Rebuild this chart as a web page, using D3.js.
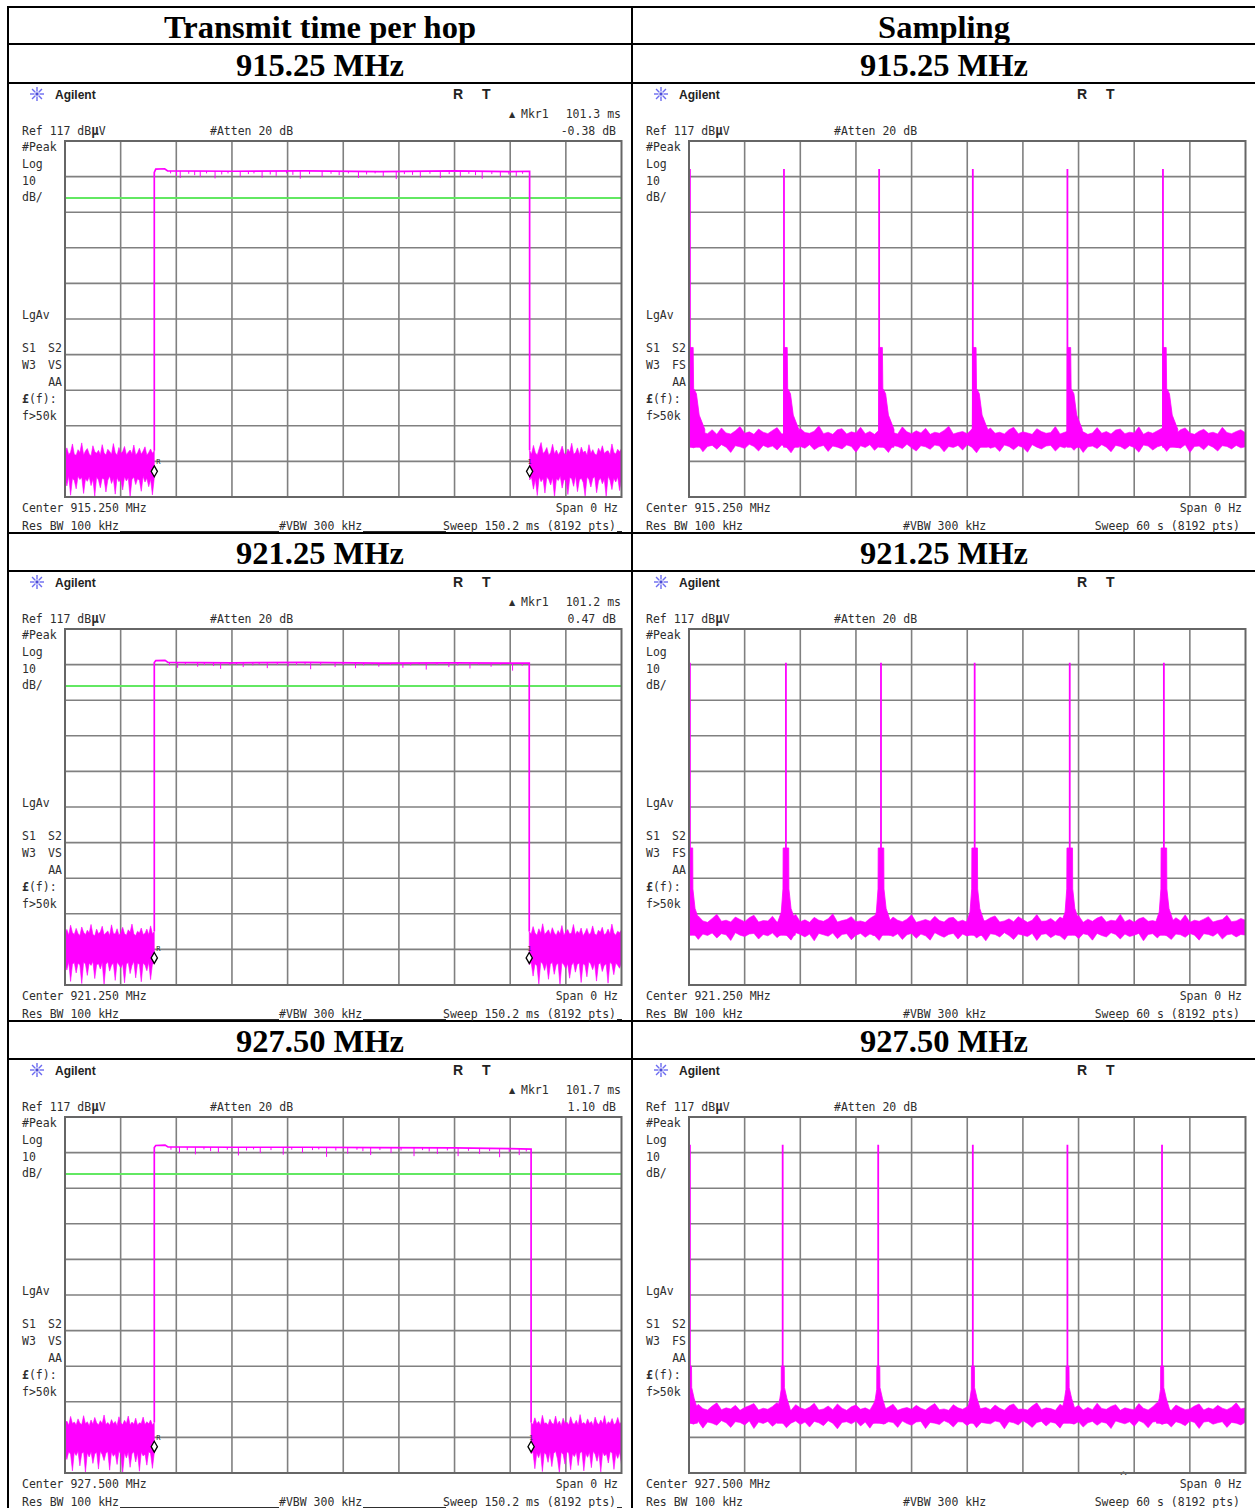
<!DOCTYPE html>
<html><head><meta charset="utf-8">
<script src="https://cdn.jsdelivr.net/npm/d3@7"></script>
<style>body{margin:0;background:#fff}</style></head>
<body>
<script>
// ---------------- DATA ----------------
const columnTitles = ["Transmit time per hop", "Sampling"];
const rowFreqs = ["915.25 MHz", "921.25 MHz", "927.50 MHz"];
const centerFreqs = ["915.250 MHz", "921.250 MHz", "927.500 MHz"];
const mkrTimes = ["101.3 ms", "101.2 ms", "101.7 ms"];
const mkrLevels = ["-0.38 dB", "0.47 dB", "1.10 dB"];
const refLevel = 117, dbPerDiv = 10, nDiv = 10;
const displayLineDb = [101, 101, 101];
const txSweepMs = 150.2, sampSweepS = 60;
const sideLabels = ["#Peak", "Log", "10", "dB/", "LgAv", "S1", "W3", "AA", "£(f):", "f>50k"];
const sideLabels2 = { 5: "S2", 6: ["VS", "FS"] };

// transmit-time panels (time in ms, level in dBuV)
const txOnMs = [24.1, 24.1, 24.1];
const txOffMs = [125.4, 125.3, 125.8];
const txMarkerDb = [24.2, 24.6, 24.4];
const txPlateau = [
  [[24.1, 108.2], [24.5, 109.1], [26.9, 109.2], [27.7, 108.6], [45, 108.5], [65, 108.6], [85, 108.4], [105, 108.6], [120, 108.4], [125.4, 108.5]],
  [[24.1, 107.6], [24.5, 108.1], [27.0, 108.2], [27.8, 107.6], [45, 107.5], [65, 107.6], [85, 107.4], [105, 107.5], [120, 107.4], [125.3, 107.4]],
  [[24.1, 108.4], [24.5, 109.0], [27.0, 109.1], [27.8, 108.6], [45, 108.5], [65, 108.5], [85, 108.4], [105, 108.3], [120, 108.1], [125.8, 108.0]]
];
const txDips = [
  [[28.5,107.9],[30.1,107.2],[31.1,106.6],[33.4,107.8],[35.0,107.4],[36.5,106.9],[38.2,107.9],[40.5,106.5],[42.3,107.6],[44.0,107.9],[47.3,107.0],[49.5,107.7],[51.0,107.9],[53.2,106.7],[55.4,107.6],[57.0,107.2],[59.8,107.9],[61.5,107.5],[63.5,106.4],[66.0,107.7],[69.4,106.9],[71.8,107.8],[74.0,107.4],[76.5,107.9],[79.2,106.6],[81.4,107.6],[83.7,107.9],[85.9,107.1],[89.4,106.3],[91.6,107.7],[93.8,107.5],[95.9,106.8],[98.5,107.8],[101.3,106.6],[103.7,107.7],[106.7,107.0],[109.0,107.8],[110.8,107.4],[112.6,106.4],[115.2,107.7],[117.5,106.9],[119.8,107.6],[121.8,107.1],[123.5,107.8]],
  [[28.2,106.8],[30.4,106.1],[32.5,107.0],[35.8,106.4],[37.6,106.9],[40.1,106.6],[42.0,105.8],[44.5,106.9],[46.3,107.0],[48.1,106.3],[50.7,106.8],[52.4,107.0],[54.6,106.0],[57.3,106.9],[60.2,106.5],[62.5,106.9],[64.8,107.0],[66.3,105.7],[69.0,106.8],[72.9,106.3],[75.1,106.9],[78.4,106.0],[80.6,106.8],[82.9,107.0],[84.7,106.4],[87.8,106.9],[91.2,106.1],[93.3,106.8],[95.6,107.0],[97.5,105.6],[100.4,106.9],[103.6,106.3],[106.0,106.8],[109.3,105.9],[111.7,106.9],[115.0,106.4],[117.6,106.9],[120.8,105.3],[123.4,106.7]],
  [[28.6,107.8],[30.9,106.9],[33.0,107.7],[35.2,106.5],[37.5,107.9],[39.3,107.4],[41.4,107.0],[43.8,107.8],[46.8,106.2],[49.0,107.6],[50.9,107.9],[52.7,106.9],[55.6,107.7],[58.9,106.4],[61.2,107.8],[64.1,107.0],[66.8,107.7],[68.5,107.9],[70.6,105.8],[73.1,107.6],[76.3,106.7],[78.8,107.8],[80.4,107.4],[82.5,106.3],[85.0,107.7],[88.0,106.9],[90.7,107.6],[94.2,106.0],[96.5,107.7],[98.3,107.3],[100.5,106.6],[103.2,107.6],[106.1,106.0],[108.9,107.5],[111.9,106.6],[114.6,107.4],[117.3,105.7],[119.9,107.2],[122.6,106.3],[124.5,107.3]]
];
// noise envelopes (upper / lower, dBuV), evenly spaced before and after the hop
const txNoiseLeftHi = [
  [29.2,30.8,28.9,29.6,31.9,29.0,28.7,30.3,29.5,32.2,28.8,29.9,30.6,29.1,28.6,31.4,29.7,29.3,30.1,28.9,31.7,29.4,28.8,30.4,29.8,29.0,32.0,29.5,28.7,30.9,29.2,29.8,31.2,28.9,29.6,30.2,29.1,31.6,28.8,29.4,30.7,29.0,29.9,31.1,28.7,29.5,30.5,29.3,30.0],
  [31.4,32.6,31.0,33.8,31.7,31.2,32.9,31.5,30.9,33.3,31.8,31.1,32.4,31.6,34.0,31.2,30.8,32.7,31.4,31.9,33.5,31.1,31.6,32.2,30.9,33.9,31.5,31.3,32.8,31.0,31.7,33.2,31.4,31.0,32.5,31.8,34.1,31.3,30.9,32.1,31.6,33.0,31.2,31.5,32.7,31.1,33.6,31.4,32.0],
  [30.8,31.6,30.4,32.9,30.9,31.3,30.5,32.2,31.0,30.6,33.1,30.8,31.4,30.3,31.9,30.7,32.6,31.1,30.5,31.7,30.9,33.3,30.6,31.2,30.4,32.0,30.8,31.5,30.3,32.8,31.0,30.6,31.8,30.9,33.0,30.5,31.3,30.7,32.4,30.4,31.1,30.9,32.7,30.6,31.4,30.8,31.9,30.5,31.2]
];
const txNoiseLeftLo = [
  [22.4,20.1,22.9,17.5,22.2,21.6,19.3,22.8,21.9,22.5,18.0,22.1,21.4,22.7,20.2,22.0,17.2,22.6,21.8,19.6,22.3,22.0,18.4,21.7,22.9,20.8,22.2,17.8,22.5,21.3,22.0,19.0,22.7,21.5,22.4,17.0,21.9,22.6,20.5,22.1,21.7,18.6,22.8,21.2,22.3,19.9,22.0,17.6,22.4],
  [23.0,21.2,23.5,18.0,22.8,23.3,20.4,23.1,22.6,17.4,23.4,22.9,19.7,23.2,22.5,23.6,18.8,22.7,23.0,21.5,23.3,17.1,22.8,23.5,20.9,22.6,23.1,18.3,23.4,22.7,21.8,23.0,17.6,22.9,23.3,20.2,22.5,23.6,19.0,23.1,22.8,17.9,23.2,22.6,21.0,23.4,18.5,22.9,23.0],
  [22.6,20.8,23.0,22.3,17.6,22.8,21.9,23.1,19.0,22.5,22.9,17.2,22.7,21.5,23.0,19.7,22.4,22.8,18.1,23.1,22.2,20.5,22.6,23.0,17.8,22.9,21.7,22.5,19.4,23.1,22.3,17.0,22.7,21.2,22.9,18.6,22.4,23.0,20.1,22.6,17.5,22.8,21.8,22.3,19.2,23.0,22.5,18.3,22.7]
];
const txNoiseRightHi = [
  [30.1,29.0,31.5,29.4,28.8,30.6,32.3,29.2,29.8,30.9,28.7,29.5,31.8,29.1,30.2,28.9,29.7,31.3,29.3,28.8,30.5,29.6,32.1,29.0,29.4,30.8,28.9,31.0,29.5,29.9,28.7,31.7,29.3,30.3,29.1,28.8,30.7,29.6,31.4,29.2,29.8,30.0,28.9,31.9,29.5,29.1,30.4,29.7,30.6],
  [32.0,31.3,33.4,31.6,31.0,32.8,31.5,34.2,31.2,31.8,32.5,31.1,33.1,31.7,30.9,32.3,31.4,33.7,31.0,31.9,32.6,31.3,31.6,34.0,31.1,32.2,31.5,33.0,30.8,31.7,32.9,31.2,31.6,33.6,31.4,31.0,32.4,31.8,33.2,31.1,31.5,32.7,31.3,34.1,31.6,31.0,32.1,31.7,32.5],
  [31.2,30.6,32.5,30.8,31.5,30.4,33.2,30.9,31.1,30.5,32.1,31.0,30.7,33.0,30.6,31.6,30.3,32.4,30.9,31.3,30.5,32.8,31.0,30.7,31.8,30.4,33.4,30.8,31.2,30.6,32.2,30.9,31.5,30.3,32.7,31.1,30.6,31.9,30.8,33.1,30.5,31.4,30.9,32.3,30.6,31.0,32.6,30.8,31.3]
];
const txNoiseRightLo = [
  [21.8,22.5,19.2,22.0,17.4,22.7,21.3,22.2,18.1,22.6,21.9,20.4,22.4,17.0,22.1,21.6,22.8,19.5,22.0,21.4,17.7,22.5,22.1,20.0,22.9,18.5,21.8,22.3,21.1,17.3,22.6,21.9,19.8,22.2,22.7,18.2,21.5,22.4,20.7,22.0,17.1,22.8,21.7,19.1,22.3,21.2,22.6,18.8,22.1],
  [22.7,23.3,19.5,23.0,22.4,17.3,23.5,22.9,21.1,23.2,18.6,22.8,23.4,20.0,22.6,23.1,17.0,23.3,22.7,21.6,23.0,18.9,22.5,23.4,20.6,22.8,23.2,17.7,23.0,22.6,19.3,23.5,22.9,21.3,23.1,18.1,22.7,23.3,20.8,22.5,23.0,17.5,23.4,22.8,19.9,23.1,22.6,21.7,23.2],
  [22.4,22.9,18.2,22.6,21.3,23.0,17.4,22.7,22.2,20.0,22.9,18.8,22.5,23.1,21.0,17.1,22.8,22.3,19.5,23.0,22.6,17.9,22.4,21.6,22.9,19.1,22.7,23.0,17.6,22.5,21.4,22.8,18.5,23.1,22.3,20.3,22.6,17.3,22.9,21.8,22.4,19.8,23.0,22.7,18.0,22.5,21.1,22.8,19.3]
];

// sampling panels (time in s)
const sampPeakTimes = [
  [0.1, 10.24, 20.5, 30.6, 40.8, 51.1],
  [0.1, 10.45, 20.7, 30.8, 41.05, 51.2],
  [0.1, 10.1, 20.4, 30.6, 40.8, 51.0]
];
const sampPeakTopDb = [109.1, 107.5, 109.2];
const sampPeakProfiles = [
  [[-0.05,35.5],[0,59],[0.35,59],[0.4,47.5],[0.7,46],[1.0,40],[1.6,36]],
  [[-0.9,34.5],[-0.5,37.5],[-0.32,44],[-0.3,55.5],[0.3,55.5],[0.32,44],[0.55,38.5],[1.0,35]],
  [[-0.6,34.5],[-0.3,38],[-0.16,40.5],[-0.15,47],[0.17,47],[0.19,41],[0.45,38],[0.8,35]]
];
// noise floor envelopes, evenly spaced over the 60 s sweep
const sampFloorHi = [
  [36.2,35.4,36.9,35.1,34.8,35.9,34.6,36.4,35.0,34.7,35.6,36.8,34.9,35.3,34.6,36.1,35.2,34.8,35.7,36.5,34.7,35.0,35.8,34.6,36.3,35.1,34.9,35.5,37.0,34.8,35.2,34.6,35.9,36.2,34.7,35.3,35.0,36.6,34.8,35.4,34.6,35.8,36.0,34.9,35.1,34.7,36.7,35.3,34.8,35.6,35.0,36.3,34.6,35.2,34.9,35.7,36.9,34.7,35.1,35.4,34.8,36.1,35.0,34.6,35.5,36.4,34.9,35.2,34.7,35.9,36.6,34.8,35.3,35.0,34.6,36.2,35.4,34.9,35.1,36.8,34.7,35.2,35.6,34.8,36.0,35.3,34.6,35.0,36.5,34.9,35.4,34.7,35.8,36.1,34.8,35.2,35.0,36.7,34.6,35.3,34.9,35.6,36.3,34.7,35.1,34.8,35.9,36.4,35.0,34.6,35.5,36.0,34.9,35.2,34.7,36.6,35.1,34.8,35.4,35.9,35.0],
  [35.3,34.8,36.4,35.0,34.6,35.7,36.9,34.9,35.2,34.7,36.1,35.4,34.8,35.9,36.6,34.7,35.1,35.0,36.3,34.6,35.5,34.9,35.8,36.8,34.8,35.3,34.6,36.0,35.2,34.9,35.6,37.0,34.7,35.1,35.4,36.2,34.8,35.0,34.6,35.7,36.5,34.9,35.3,34.7,36.1,35.2,34.8,35.5,36.7,34.6,35.0,35.4,34.9,36.3,35.1,34.7,35.8,36.0,34.8,35.2,34.6,36.6,35.3,34.9,35.1,35.9,36.4,34.7,35.0,35.6,34.8,36.2,35.4,34.6,35.2,36.8,34.9,35.0,35.7,34.7,36.1,35.3,34.8,35.1,36.5,34.6,35.5,34.9,35.8,36.3,34.7,35.2,35.0,36.9,34.8,35.4,34.6,35.6,36.0,34.9,35.1,34.7,36.4,35.3,34.8,35.9,35.0,36.7,34.6,35.2,34.9,35.5,36.2,34.7,35.1,35.4,36.6,34.8,35.0,35.7,35.2],
  [35.6,34.9,36.3,35.1,34.7,35.8,36.7,34.8,35.3,35.0,36.0,34.6,35.4,35.9,36.5,34.7,35.2,34.9,35.7,36.8,34.8,35.1,34.6,36.2,35.3,34.9,35.5,36.6,34.7,35.0,35.8,34.8,36.4,35.2,34.6,35.6,36.1,34.9,35.3,34.7,36.9,35.0,34.8,35.5,36.3,34.6,35.1,35.4,34.9,36.0,35.2,34.7,35.7,36.5,34.8,35.0,34.6,36.2,35.3,34.9,35.6,36.8,34.7,35.1,35.4,34.8,36.1,35.2,34.6,35.9,36.4,34.9,35.0,34.7,35.8,36.7,34.8,35.3,35.1,34.6,36.3,35.5,34.9,35.2,36.0,34.7,35.4,34.8,36.6,35.1,34.9,35.7,36.2,34.6,35.3,35.0,34.8,36.5,35.2,34.7,35.6,36.9,34.9,35.1,34.6,36.1,35.4,34.8,35.0,35.8,36.4,34.7,35.3,34.9,36.0,35.2,34.8,35.5,36.7,35.0,35.3]
];
const sampFloorLo = [
  [31.3,30.8,31.6,29.7,31.2,31.5,30.4,31.7,31.0,29.5,31.4,31.1,30.6,31.8,31.2,29.9,31.5,30.9,31.3,30.2,31.6,31.0,29.4,31.4,31.2,30.7,31.7,30.3,31.1,31.5,29.8,31.3,31.0,30.5,31.6,31.2,29.6,31.4,30.9,31.7,30.1,31.3,31.0,29.5,31.5,31.2,30.6,31.8,30.8,29.9,31.4,31.1,30.4,31.6,31.3,29.7,31.2,30.9,31.5,30.2,31.7,31.0,29.4,31.3,31.5,30.7,31.1,29.8,31.6,31.2,30.3,31.4,30.9,29.6,31.7,31.0,30.5,31.3,31.5,29.9,31.2,30.8,31.6,30.1,31.4,29.5,31.1,31.3,30.6,31.7,31.0,29.7,31.5,31.2,30.4,31.4,30.9,29.6,31.6,31.3,30.2,31.1,31.5,29.8,31.4,31.0,30.7,31.7,29.5,31.2,31.3,30.3,31.6,31.0,29.9,31.4,31.2,30.5,31.5,30.8,31.1],
  [31.0,31.5,29.8,31.3,30.9,31.6,30.2,31.4,31.1,29.5,31.7,31.0,30.6,31.3,31.5,29.9,31.2,30.8,31.6,30.3,31.4,31.0,29.6,31.7,31.2,30.5,31.3,29.4,31.5,31.1,30.7,31.6,30.0,31.2,31.4,29.7,31.0,31.5,30.4,31.3,30.9,29.5,31.6,31.2,30.6,31.4,29.8,31.1,31.5,30.1,31.3,30.8,29.6,31.7,31.0,30.4,31.2,31.5,29.9,31.3,30.7,31.6,30.2,31.1,29.4,31.4,31.2,30.5,31.7,30.9,29.8,31.3,31.0,30.6,31.5,29.5,31.2,31.4,30.3,31.1,30.8,29.7,31.6,31.3,30.0,31.4,31.1,29.6,31.5,30.9,30.5,31.7,31.2,29.9,31.3,30.6,31.0,31.5,29.4,31.2,31.4,30.2,31.6,30.8,29.8,31.3,31.1,30.4,31.5,31.0,29.6,31.4,31.2,30.7,31.6,29.9,31.1,31.3,30.5,31.2,31.0],
  [31.2,30.7,31.5,29.6,31.3,31.0,30.4,31.7,31.1,29.8,31.4,31.2,30.5,31.6,29.5,31.3,30.9,31.5,30.1,31.2,31.4,29.7,31.0,31.6,30.6,31.3,29.9,31.5,31.1,30.3,31.7,31.0,29.4,31.2,31.4,30.8,31.6,30.2,31.3,29.6,31.5,31.1,30.7,31.4,31.2,29.8,31.6,30.9,30.4,31.3,31.5,29.5,31.2,31.0,30.6,31.7,31.1,29.9,31.4,31.3,30.3,31.5,29.7,31.2,31.0,30.8,31.6,31.3,29.4,31.4,31.1,30.5,31.7,30.9,29.8,31.2,31.5,30.2,31.3,31.0,29.6,31.6,31.2,30.7,31.4,29.9,31.1,31.5,30.4,31.3,31.0,29.5,31.6,31.2,30.8,31.4,30.1,31.7,31.1,29.7,31.3,31.5,30.6,31.2,29.9,31.4,31.0,30.3,31.6,31.2,29.5,31.3,31.5,30.7,31.1,31.4,29.8,31.2,31.0,30.5,31.3]
];

// ---------------- DRAWING ----------------
const W = 1255, H = 1508;
const MAG = "#ff00ff", TXT = "#2e2e2e";
const svg = d3.select("body").append("svg").attr("width", W).attr("height", H);
svg.append("rect").attr("width", W).attr("height", H).attr("fill", "#fff");

const rowOff = [0, 488, 976], colOff = [0, 624];
const colCenters = [320, 944];

// table grid
const tbl = svg.append("g").attr("stroke", "#000").attr("stroke-width", 2);
[8, 632].forEach(x => tbl.append("line").attr("x1", x).attr("x2", x).attr("y1", 6).attr("y2", H));
[7, 44, 83, 533, 571, 1021, 1059].forEach(y => tbl.append("line").attr("x1", 7).attr("x2", W).attr("y1", y).attr("y2", y));

const serif = "'Liberation Serif','Times New Roman',serif";
columnTitles.forEach((t, i) => svg.append("text").attr("x", colCenters[i]).attr("y", 38)
  .attr("text-anchor", "middle").attr("font-family", serif).attr("font-weight", "bold")
  .attr("font-size", 32.5).text(t));
rowFreqs.forEach((f, r) => colCenters.forEach(cx => svg.append("text").attr("x", cx).attr("y", 76 + rowOff[r])
  .attr("text-anchor", "middle").attr("font-family", serif).attr("font-weight", "bold")
  .attr("font-size", 32.5).text(f)));

const MONO = "'DejaVu Sans Mono','Liberation Mono',monospace";
function mono(g, x, y, str, anchor) {
  return g.append("text").attr("transform", `translate(${x},${y}) scale(0.885,1)`)
    .attr("font-family", MONO).attr("font-size", 13).attr("fill", TXT)
    .attr("text-anchor", anchor || "start").text(str);
}
// polygon between an evenly spaced upper envelope and lower envelope
function bandPoints(hi, lo, t0, t1) {
  const th = d3.scaleLinear().domain([0, hi.length - 1]).range([t0, t1]);
  const tl = d3.scaleLinear().domain([0, lo.length - 1]).range([t0, t1]);
  return hi.map((v, i) => [th(i), v]).concat(lo.map((v, i) => [tl(i), v]).reverse());
}

let clipId = 0;
function panel(r, c) {
  const g = svg.append("g").attr("transform", `translate(${colOff[c]},${rowOff[r]})`);
  const plotL = 65, plotR = 621.5, plotT = 141, plotB = 497;
  g.append("rect").attr("x", 20).attr("y", 84).attr("width", c === 0 ? 602 : 604).attr("height", 448).attr("fill", "#fff");

  // header area
  const logo = g.append("g").attr("transform", "translate(37,94)").attr("stroke", "#6b6bf0").attr("stroke-width", 1.4);
  d3.range(8).forEach(k => {
    const a = k * Math.PI / 4;
    logo.append("line").attr("x1", 2.5 * Math.cos(a)).attr("y1", 2.5 * Math.sin(a))
      .attr("x2", 7 * Math.cos(a)).attr("y2", 7 * Math.sin(a));
  });
  logo.append("rect").attr("x", -1.5).attr("y", -1.5).attr("width", 3).attr("height", 3).attr("fill", "#4a4ad8").attr("stroke", "none");
  g.append("text").attr("x", 55).attr("y", 99).attr("font-family", "'Liberation Sans',Arial,sans-serif")
    .attr("font-weight", "bold").attr("font-size", 12).attr("fill", "#222").text("Agilent");
  ["R", "T"].forEach((s, i) => g.append("text").attr("x", 453 + i * 29).attr("y", 99)
    .attr("font-family", "'Liberation Sans',Arial,sans-serif").attr("font-weight", "bold")
    .attr("font-size", 14).attr("fill", "#222").text(s));
  if (c === 0) {
    g.append("text").attr("x", 509).attr("y", 117).attr("font-family", "'DejaVu Sans',sans-serif")
      .attr("font-size", 8).attr("fill", TXT).text("▲");
    mono(g, 521, 118, "Mkr1");
    mono(g, 621, 118, mkrTimes[r], "end");
    mono(g, 616, 135, mkrLevels[r], "end");
  }
  const ref = mono(g, 22, 135, "Ref 117 dB");
  ref.append("tspan").attr("font-weight", "bold").attr("font-size", 14).text("μ");
  ref.append("tspan").text("V");
  mono(g, 210, 135, "#Atten 20 dB");

  const labelY = [151, 168, 185, 201, 319, 352, 369, 386, 403, 420];
  sideLabels.forEach((s, i) => {
    if (s === "AA") mono(g, 62, labelY[i], s, "end");
    else if (s.startsWith("£")) {
      const t = mono(g, 22, labelY[i], "");
      t.append("tspan").attr("font-weight", "bold").text("£");
      t.append("tspan").text("(f):");
    } else mono(g, 22, labelY[i], s);
  });
  mono(g, 48, labelY[5], sideLabels2[5]);
  mono(g, 48, labelY[6], sideLabels2[6][c]);

  // bottom annotations
  mono(g, 22, 512, "Center " + centerFreqs[r]);
  mono(g, 618, 512, "Span 0 Hz", "end");
  mono(g, 22, 530, "Res BW 100 kHz");
  mono(g, 279, 530, "#VBW 300 kHz");
  mono(g, 616, 530, c === 0 ? "Sweep " + txSweepMs + " ms (8192 pts)" : "Sweep " + sampSweepS + " s (8192 pts)", "end");
  if (c === 0) {
    const u = g.append("g").attr("stroke", TXT).attr("stroke-width", 1);
    [[120, 279], [363, 446], [617, 622]].forEach(([a, b]) => u.append("line").attr("x1", a).attr("x2", b).attr("y1", 531.5).attr("y2", 531.5));
  }
  if (c === 1 && r === 2) mono(g, 496, 505, "^");

  // scales
  const y = d3.scaleLinear().domain([refLevel - dbPerDiv * nDiv, refLevel]).range([plotB, plotT]);
  const x = d3.scaleLinear().domain([0, c === 0 ? txSweepMs : sampSweepS]).range([plotL, plotR]);
  const xd = d3.scaleLinear().domain([0, nDiv]).range([plotL, plotR]);
  const yd = d3.scaleLinear().domain([0, nDiv]).range([plotT, plotB]);

  const grid = g.append("g").attr("stroke", "#808080").attr("stroke-width", 1.6);
  d3.range(1, nDiv).forEach(i => {
    grid.append("line").attr("x1", xd(i)).attr("x2", xd(i)).attr("y1", plotT).attr("y2", plotB);
    grid.append("line").attr("x1", plotL).attr("x2", plotR).attr("y1", yd(i)).attr("y2", yd(i));
  });

  const id = "clip" + (clipId++);
  g.append("clipPath").attr("id", id).append("rect").attr("x", plotL).attr("y", plotT)
    .attr("width", plotR - plotL).attr("height", plotB - plotT);
  const tr = g.append("g").attr("clip-path", `url(#${id})`);
  const poly = d3.line().x(d => x(d[0])).y(d => y(d[1]));

  if (c === 0) {
    tr.append("line").attr("x1", plotL).attr("x2", plotR).attr("y1", y(displayLineDb[r])).attr("y2", y(displayLineDb[r]))
      .attr("stroke", "#62e862").attr("stroke-width", 2);
    const Lp = bandPoints(txNoiseLeftHi[r], txNoiseLeftLo[r], 0, txOnMs[r]);
    const Rp = bandPoints(txNoiseRightHi[r], txNoiseRightLo[r], txOffMs[r], txSweepMs);
    [Lp, Rp].forEach(b => tr.append("path").attr("d", poly(b) + "Z").attr("fill", MAG).attr("stroke", MAG).attr("stroke-width", 0.6));
    const pts = [[txOnMs[r], txNoiseLeftHi[r][txNoiseLeftHi[r].length - 1]], ...txPlateau[r], [txOffMs[r], txNoiseRightHi[r][0]]];
    tr.append("path").attr("d", poly(pts)).attr("fill", "none").attr("stroke", MAG).attr("stroke-width", 1.7);
    const top = d3.scaleLinear().domain(txPlateau[r].map(d => d[0])).range(txPlateau[r].map(d => d[1]));
    txDips[r].forEach(d => tr.append("line").attr("x1", x(d[0])).attr("x2", x(d[0]))
      .attr("y1", y(top(d[0]))).attr("y2", y(d[1])).attr("stroke", MAG).attr("stroke-width", 1));
    // markers
    const sym = d3.symbol().type(d3.symbolDiamond).size(34);
    [txOnMs[r], txOffMs[r]].forEach(t => g.append("path").attr("d", sym())
      .attr("transform", `translate(${x(t)},${y(txMarkerDb[r])})`).attr("fill", "#fff").attr("stroke", "#000").attr("stroke-width", 1.3));
    g.append("text").attr("x", x(txOnMs[r]) + 2).attr("y", y(txMarkerDb[r]) - 7).attr("font-family", MONO)
      .attr("font-size", 7).attr("fill", TXT).text("R");
    g.append("text").attr("x", x(txOffMs[r]) - 2).attr("y", y(txMarkerDb[r]) - 7).attr("font-family", MONO)
      .attr("font-size", 7).attr("fill", TXT).text("1");
  } else {
    const fp = bandPoints(sampFloorHi[r], sampFloorLo[r], 0, sampSweepS);
    tr.append("path").attr("d", poly(fp) + "Z").attr("fill", MAG).attr("stroke", MAG).attr("stroke-width", 0.6);
    const parea = d3.area().x(d => x(d[0])).y0(y(31)).y1(d => y(d[1]));
    sampPeakTimes[r].forEach(p => {
      const prof = sampPeakProfiles[r].map(d => [p + d[0], d[1]]);
      tr.append("path").attr("d", parea(prof)).attr("fill", MAG).attr("stroke", MAG).attr("stroke-width", 0.8);
      tr.append("line").attr("x1", x(p)).attr("x2", x(p)).attr("y1", y(33)).attr("y2", y(sampPeakTopDb[r]))
        .attr("stroke", MAG).attr("stroke-width", 1.8);
    });
  }
  g.append("rect").attr("x", plotL).attr("y", plotT).attr("width", plotR - plotL).attr("height", plotB - plotT)
    .attr("fill", "none").attr("stroke", "#666").attr("stroke-width", 2);
}
[0, 1, 2].forEach(r => [0, 1].forEach(c => panel(r, c)));
</script>
</body></html>
